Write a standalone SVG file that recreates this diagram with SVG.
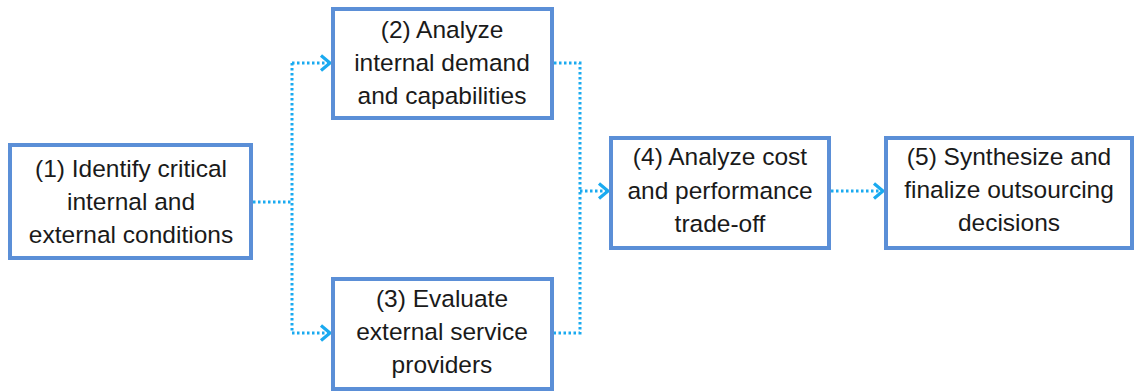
<svg xmlns="http://www.w3.org/2000/svg" width="1135" height="392" viewBox="0 0 1135 392">
<style>
.box{fill:#ffffff;stroke:#5b8fd7;stroke-width:4}
.t{font-family:"Liberation Sans",Arial,sans-serif;font-size:24.5px;fill:#1a1a1a;text-anchor:middle}
.c{fill:none;stroke:#1aaaf0;stroke-width:3;stroke-dasharray:2.5 2.5}
</style>
<defs>
<marker id="ah" markerWidth="14" markerHeight="18" refX="11" refY="9" orient="auto" markerUnits="userSpaceOnUse">
<path d="M2,1.5 L11,9 L2,16.5" fill="none" stroke="#1aaaf0" stroke-width="3.2"/>
</marker>
</defs>
<rect width="1135" height="392" fill="#ffffff"/>
<g id="connectors">
<path class="c" d="M253,202 H292"/>
<path class="c" d="M292,63 V333"/>
<path class="c" d="M292,63 H330" marker-end="url(#ah)"/>
<path class="c" d="M292,333 H330" marker-end="url(#ah)"/>
<path class="c" d="M554,63 H580 V333 H554"/>
<path class="c" d="M580,191 H608" marker-end="url(#ah)"/>
<path class="c" d="M831,191 H883" marker-end="url(#ah)"/>
</g>
<g id="node1">
<rect class="box" x="10" y="145" width="241" height="113"/>
<text class="t" x="131" y="177">(1) Identify critical</text>
<text class="t" x="131" y="210">internal and</text>
<text class="t" x="131" y="243">external conditions</text>
</g>
<g id="node2">
<rect class="box" x="333" y="9" width="219" height="109"/>
<text class="t" x="442" y="38">(2) Analyze</text>
<text class="t" x="442" y="71">internal demand</text>
<text class="t" x="442" y="104">and capabilities</text>
</g>
<g id="node3">
<rect class="box" x="333" y="279" width="219" height="110"/>
<text class="t" x="442" y="307">(3) Evaluate</text>
<text class="t" x="442" y="340">external service</text>
<text class="t" x="442" y="373">providers</text>
</g>
<g id="node4">
<rect class="box" x="611" y="138" width="218" height="110"/>
<text class="t" x="720" y="165">(4) Analyze cost</text>
<text class="t" x="720" y="199">and performance</text>
<text class="t" x="720" y="232">trade-off</text>
</g>
<g id="node5">
<rect class="box" x="886" y="138" width="246" height="110"/>
<text class="t" x="1009" y="165">(5) Synthesize and</text>
<text class="t" x="1009" y="198">finalize outsourcing</text>
<text class="t" x="1009" y="231">decisions</text>
</g>
</svg>
